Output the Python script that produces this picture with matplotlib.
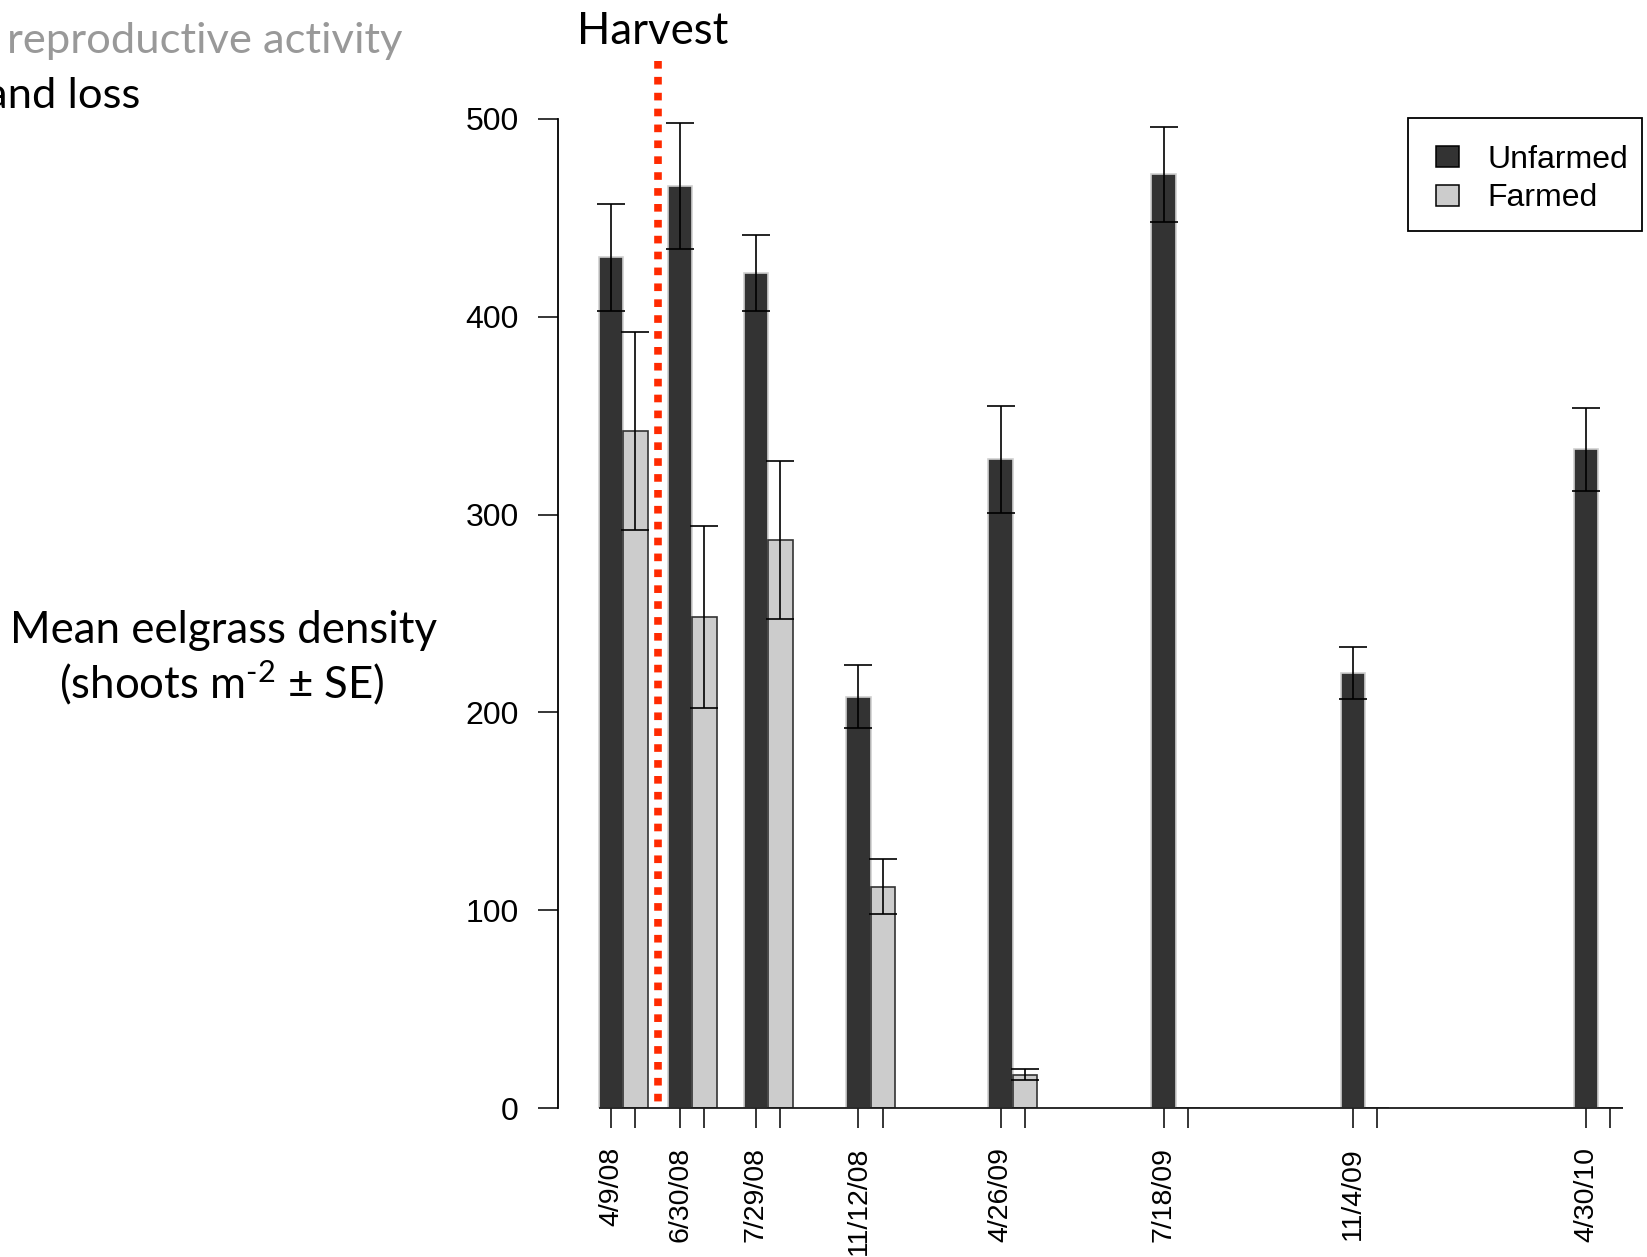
import matplotlib
matplotlib.use("Agg")
import matplotlib.pyplot as plt
from matplotlib.patches import Rectangle
import numpy as np

# ---- data -------------------------------------------------------------
dates = ["4/9/08", "6/30/08", "7/29/08", "11/12/08",
         "4/26/09", "7/18/09", "11/4/09", "4/30/10"]
# sampling-date positions along the x axis (in bar widths)
date_pos = [0.0, 2.83, 5.94, 10.14, 15.97, 22.65, 30.40, 39.96]
unfarmed_mean = [430, 466, 422, 208, 328, 472, 220, 333]
unfarmed_se = [27, 32, 19, 16, 27, 24, 13, 21]
farmed_mean = [342, 248, 287, 112, 17, 0, 0, 0]
farmed_se = [50, 46, 40, 14, 3, 0, 0, 0]
y_ticks = [0, 100, 200, 300, 400, 500]
series_labels = ["Unfarmed", "Farmed"]

# ---- styling ------------------------------------------------------------
DARK = "#333333"
LIGHT = "#cccccc"
HARVEST_RED = "#ff2a00"
SLIDE_FONT = "Lato"
PLOT_FONT = "Liberation Sans"
plt.rcParams["mathtext.fontset"] = "custom"
plt.rcParams["mathtext.rm"] = SLIDE_FONT
plt.rcParams["mathtext.it"] = SLIDE_FONT

W, H = 1647, 1257
fig = plt.figure(figsize=(W / 100, H / 100), dpi=100)


def fx(px):
    return px / W


def fy(py):
    return 1 - py / H


# plot area, laid out in pixels
left_px, right_px = 557.7, 1647.0
base_px, px_per_shoot = 1108.2, 1.979
px_per_bar = 24.4
first_center_px = 611.0
y_top = 540
top_px = base_px - y_top * px_per_shoot
ax = fig.add_axes([fx(left_px), fy(base_px),
                   (right_px - left_px) / W, (base_px - top_px) / H])
ax.set_xlim((left_px - first_center_px) / px_per_bar,
            (right_px - first_center_px) / px_per_bar)
ax.set_ylim(0, y_top)

x_u = np.array(date_pos)
x_f = x_u + 1.0

ax.bar(x_u, unfarmed_mean, width=1.0, color=DARK, edgecolor="#d0d0d0",
       linewidth=1.2, zorder=2)
ax.bar(x_f, farmed_mean, width=1.0, color=LIGHT, edgecolor=DARK,
       linewidth=1.2, zorder=2)

# baseline under all bars
ax.hlines(0, x_u[0] - 0.5, x_f[-1] + 0.5, color="#1a1a1a", lw=1.3,
          zorder=3, clip_on=False)

# standard-error bars
for xs, m, se in ((x_u, unfarmed_mean, unfarmed_se),
                  (x_f, farmed_mean, farmed_se)):
    m = np.array(m, dtype=float)
    se = np.array(se, dtype=float)
    keep = se > 0
    ax.errorbar(xs[keep], m[keep], yerr=se[keep], fmt="none",
                ecolor="black", elinewidth=1.2, capsize=10, capthick=1.2,
                zorder=4, clip_on=False)

# harvest marker between the first and second sampling dates
harvest_x = ((x_f[0] + 0.5) + (x_u[1] - 0.5)) / 2
ax.plot([harvest_x, harvest_x], [529, 0], color=HARVEST_RED, lw=5.5,
        linestyle=(0, (1, 1.08)), dash_capstyle="butt", clip_on=False,
        zorder=5)

# axes styling
for side in ("top", "right", "bottom"):
    ax.spines[side].set_visible(False)
ax.spines["left"].set_bounds(0, 500)
ax.spines["left"].set_linewidth(1.3)

ax.set_yticks(y_ticks)
ax.set_yticklabels([str(v) for v in y_ticks], fontsize=23, family=PLOT_FONT)
ax.set_xticks(x_u)
ax.set_xticklabels(dates, rotation=90, fontsize=20.5, family=PLOT_FONT,
                   va="top", ha="center")
ax.set_xticks(x_f, minor=True)
ax.tick_params(axis="both", which="both", direction="out", length=14.4,
               width=1.1, color="black")
ax.tick_params(axis="y", pad=13.5)
ax.tick_params(axis="x", pad=13.5)

# legend box
fig.patches.append(Rectangle((fx(1407.5), fy(231)), (1642 - 1407.5) / W,
                             (231 - 117.6) / H, transform=fig.transFigure,
                             facecolor="white", edgecolor="black", lw=1.3))
for (top, color, label) in ((146, DARK, series_labels[0]),
                            (185, LIGHT, series_labels[1])):
    fig.patches.append(Rectangle((fx(1436), fy(top + 21)), 23 / W, 21 / H,
                                 transform=fig.transFigure, facecolor=color,
                                 edgecolor="black", lw=1.1))
    fig.text(fx(1487), fy(top + 13.5), label, ha="left", va="center",
             fontsize=23, family=PLOT_FONT)

# slide text
fig.text(fx(653), fy(44), "Harvest", ha="center", va="baseline",
         fontsize=31.5, family=SLIDE_FONT)
fig.text(fx(223), fy(643), "Mean eelgrass density", ha="center",
         va="baseline", fontsize=31.5, family=SLIDE_FONT)
fig.text(fx(222), fy(698), r"(shoots m$^{\text{-2}}$ ± SE)", ha="center",
         va="baseline", fontsize=31.5, family=SLIDE_FONT)
fig.text(fx(402), fy(53), "reproductive activity", ha="right",
         va="baseline", fontsize=31.3, family=SLIDE_FONT, color="#999999")
fig.text(fx(140), fy(108), "and loss", ha="right", va="baseline",
         fontsize=31.3, family=SLIDE_FONT, color="black")

fig.savefig("out.png", dpi=100)
